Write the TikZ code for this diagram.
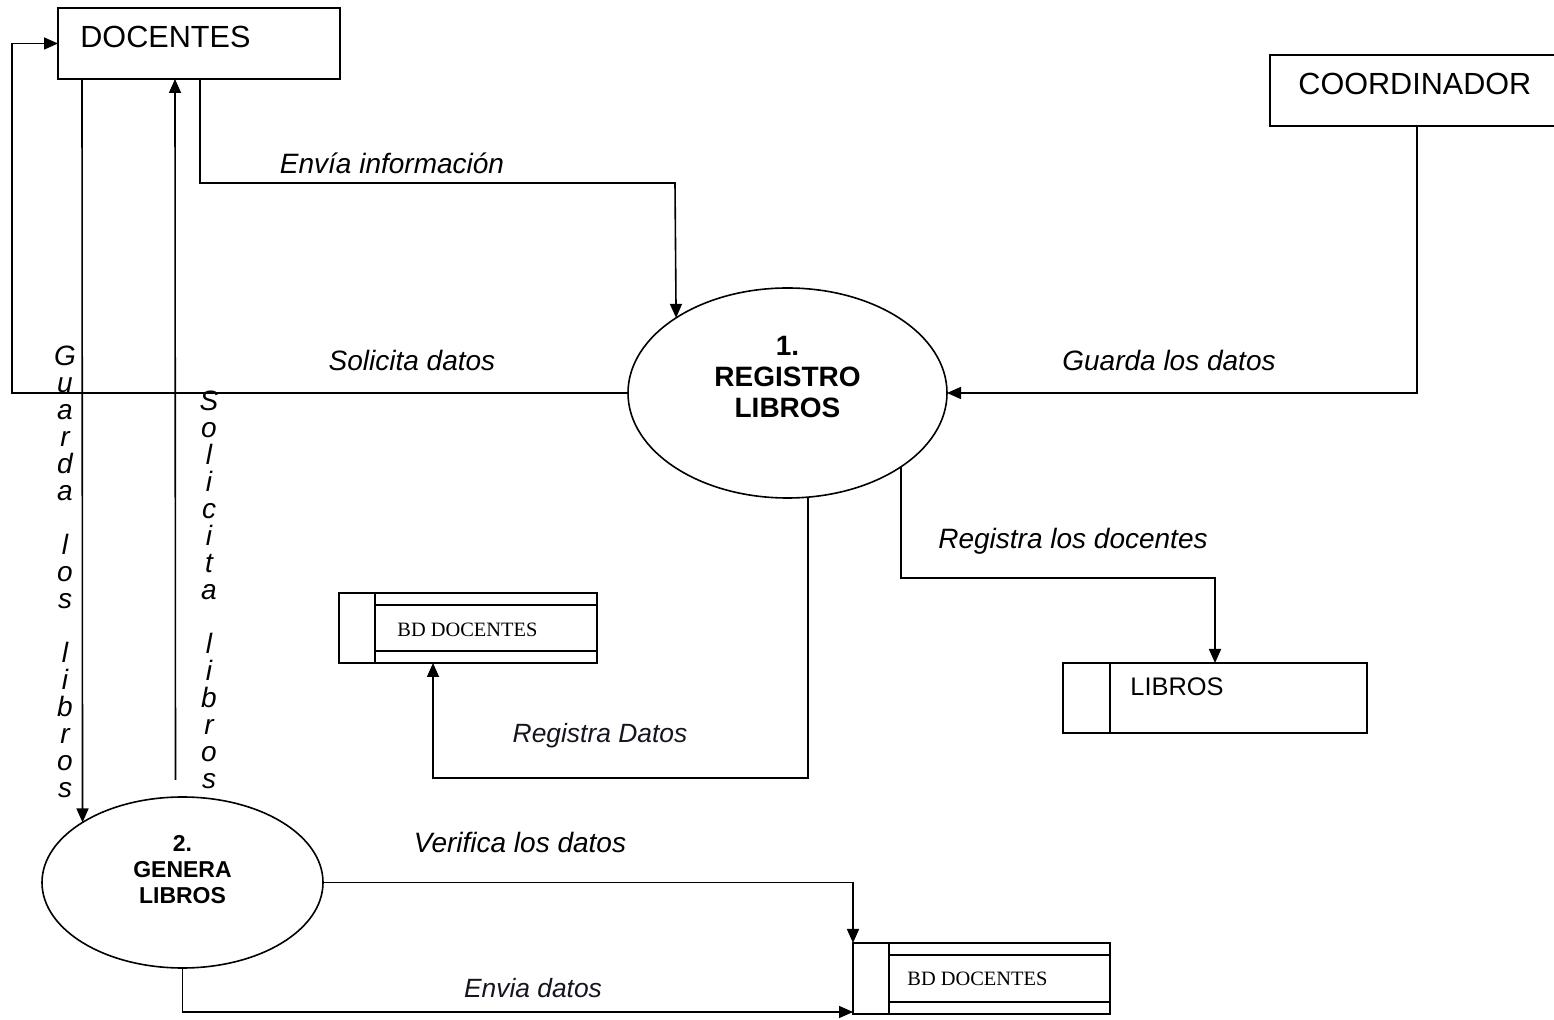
\documentclass[tikz,border=0pt]{standalone}
\usepackage{fontspec}
\setmainfont{Liberation Sans}
\newfontfamily\tnr{Liberation Serif}
\usepackage{xcolor}
\usepackage{tikz}
\usetikzlibrary{arrows.meta}
\usetikzlibrary{calc, shapes.geometric}
\definecolor{ink}{HTML}{15151F}

\tikzset{
	ent/.style={draw, rectangle, line width=0.9pt, inner sep=0pt, outer sep=0pt, minimum height=35.5pt},
	proc/.style={draw, ellipse, line width=0.8pt, inner sep=0pt, outer sep=0pt},
	store/.style={draw, rectangle, line width=0.9pt, inner sep=0pt, outer sep=0pt},
	flow/.style={line width=0.8pt, -{Triangle[length=7pt,width=6pt]}},
	lbl/.style={font=\fontsize{14}{16}\selectfont\itshape, inner sep=0pt},
	vlbl/.style={font=\fontsize{14}{13.5}\selectfont\itshape, align=center, inner sep=0pt},
	txt/.style={inner sep=0pt, anchor=west}
}

\begin{document}
\begin{tikzpicture}[x=0.5pt, y=-0.5pt]
	\useasboundingbox (0,0) rectangle (1554,1020);
	%entities
	\node[ent, minimum width=141pt] (docentes) at (199,43.5) {};
	\node[ent, minimum width=150pt] (coord) at (1420,90.5) {};
	\node[txt, font=\fontsize{15.3}{18}\selectfont] (doctxt) at ($(docentes.north west)+(22,29)$) {DOCENTES};
	\node[txt, font=\fontsize{15.3}{18}\selectfont] (coordtxt) at ($(coord.north west)+(28,29)$) {COORDINADOR};
	%processes
	\node[proc, minimum width=159.5pt, minimum height=105pt] (reg) at (787.5,393) {};
	\node[proc, minimum width=140.5pt, minimum height=85.5pt] (gen) at (182.5,882.5) {};
	\node[font=\fontsize{14}{15.5}\selectfont\bfseries, align=center, inner sep=0pt] (regtxt) at ($(reg.center)+(0,-16)$) {1.\\REGISTRO\\LIBROS};
	\node[font=\fontsize{11.5}{13}\selectfont\bfseries, align=center, inner sep=0pt] (gentxt) at ($(gen.center)+(0,-13)$) {2.\\GENERA\\LIBROS};
	%stores
	\node[store, minimum width=129pt, minimum height=35pt] (bd1) at (468,628) {};
	\node[store, minimum width=128.5pt, minimum height=35.5pt] (bd2) at (981.5,978.5) {};
	\node[store, minimum width=152pt, minimum height=35pt] (libros) at (1215,698) {};
	\foreach \s in {bd1, bd2}
	{
	\draw[line width=0.9pt] ($(\s.north west)+(36,0)$) -- ($(\s.south west)+(36,0)$);
	\draw[line width=0.9pt] ($(\s.north west)+(36,12)$) -- ($(\s.north east)+(0,12)$);
	\draw[line width=0.9pt] ($(\s.south west)+(36,-12)$) -- ($(\s.south east)+(0,-12)$);
	}
	\draw[line width=0.9pt] ($(libros.north west)+(47,0)$) -- ($(libros.south west)+(47,0)$);
	\node[txt, font=\tnr\fontsize{10.2}{12}\selectfont] (bd1txt) at ($(bd1.west)+(58,2)$) {BD DOCENTES};
	\node[txt, font=\tnr\fontsize{10.2}{12}\selectfont] (bd2txt) at ($(bd2.west)+(54,0)$) {BD DOCENTES};
	\node[txt, font=\fontsize{12.7}{15}\selectfont] (librostxt) at ($(libros.west)+(67,-11)$) {LIBROS};
	%flows
	\draw[flow] ($(docentes.south west)+(142,0)$) |- ++(475,104) -- (reg.146);
	\draw[flow] (reg.west) -| ($(docentes.west)+(-46,0)$) -- (docentes.west);
	\draw[flow] ($(coord.south west)+(147,0)$) |- (reg.east);
	\draw[flow] (reg.-33) |- ($(libros.north)+(0,-85)$) -- (libros.north);
	\draw[flow] (reg.-79) |- ($(bd1.south west)+(94,115)$) -- ($(bd1.south west)+(94,0)$);
	\draw[flow] ($(docentes.south west)+(24,0)$) -- (gen.149);
	\draw[flow] ($(gen.north)+(-7,-17)$) -- ($(docentes.south west)+(117,0)$);
	\draw[flow] (gen.east) -| (bd2.north west);
	\draw[flow] (gen.south) |- ($(bd2.south west)+(0,-2)$);
	%labels
	\node[lbl] (l1) at (392,163) {Envía información};
	\node[lbl] (l2) at (412,361) {Solicita datos};
	\node[lbl] (l3) at (1169,361) {Guarda los datos};
	\node[lbl] (l4) at (1073,541) {Registra los docentes};
	\node[lbl, font=\fontsize{13.2}{16}\selectfont\itshape, text=ink] (l5) at (600,736) {Registra Datos};
	\node[lbl] (l6) at (520,843) {Verifica los datos};
	\node[lbl, font=\fontsize{13.2}{16}\selectfont\itshape, text=ink] (l7) at (533,988) {Envia datos};
	\node[vlbl] (l8) at (65,572) {G\\u\\a\\r\\d\\a\\[13.5pt]l\\o\\s\\[13.5pt]l\\i\\b\\r\\o\\s};
	\node[vlbl] (l9) at (209,590) {S\\o\\l\\i\\c\\i\\t\\a\\[13.5pt]l\\i\\b\\r\\o\\s};
\end{tikzpicture}
\end{document}
